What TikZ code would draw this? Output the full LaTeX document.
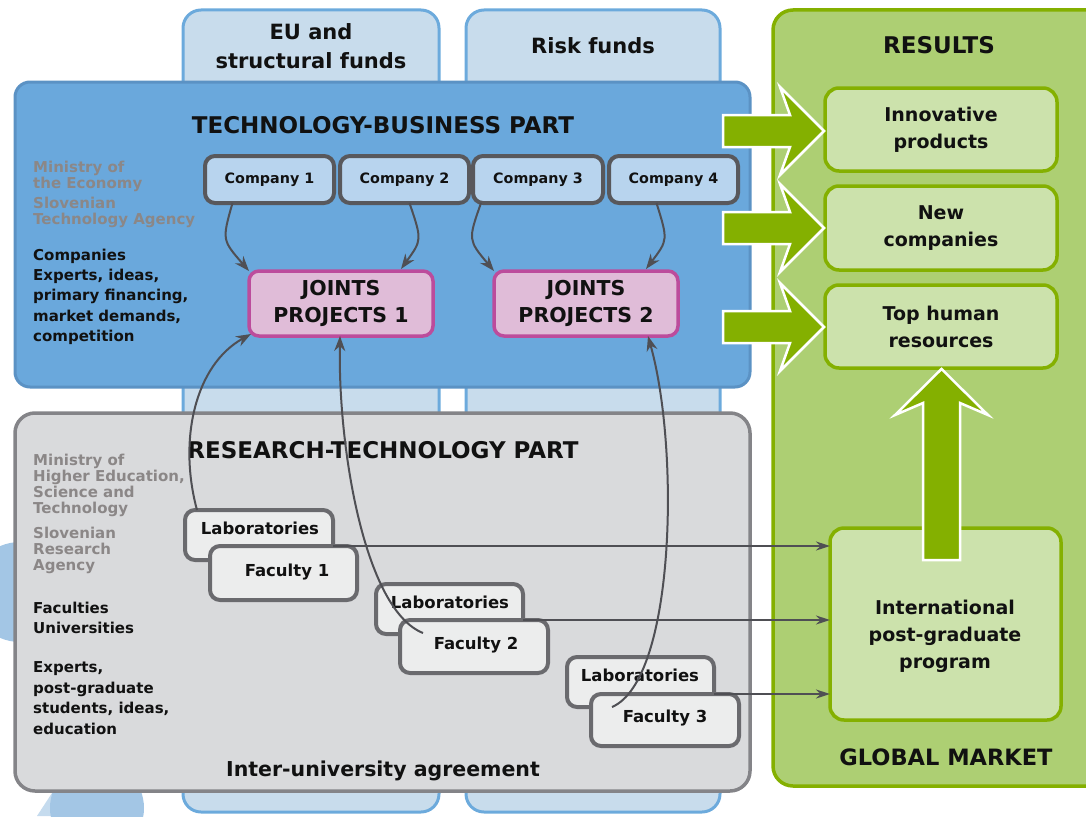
\documentclass[tikz,border=0pt]{standalone}
\usepackage{fontspec}
\setmainfont{DejaVu Sans}
\usetikzlibrary{arrows.meta,calc}
\definecolor{tabfill}{HTML}{C8DCEC}
\definecolor{tabdraw}{HTML}{6CAADC}
\definecolor{bluefill}{HTML}{6AA8DC}
\definecolor{bluedraw}{HTML}{5B92C4}
\definecolor{grayfill}{HTML}{D9DADC}
\definecolor{graydraw}{HTML}{848488}
\definecolor{greenfill}{HTML}{ADCF73}
\definecolor{greendraw}{HTML}{84B000}
\definecolor{resfill}{HTML}{CCE2AC}
\definecolor{compfill}{HTML}{B8D4EE}
\definecolor{compdraw}{HTML}{58585C}
\definecolor{jointfill}{HTML}{E0BCD8}
\definecolor{jointdraw}{HTML}{BC4C9C}
\definecolor{labfill}{HTML}{ECEDED}
\definecolor{labdraw}{HTML}{6A6A6E}
\definecolor{mingray}{HTML}{8B8787}
\definecolor{conncol}{HTML}{4F4F54}
\definecolor{circA}{HTML}{A3C6E5}
\definecolor{circB}{HTML}{C5DBEE}
\definecolor{ink}{HTML}{111111}
\begin{document}
\begin{tikzpicture}[x=1pt,y=-1pt,
  box/.style={inner sep=0pt, outer sep=0pt, anchor=north west},
  tabbox/.style={draw=tabdraw, fill=tabfill, line width=3pt, rounded corners=18pt},
  resbox/.style={box, draw=greendraw, fill=resfill, line width=3.5pt, rounded corners=14pt,
    minimum width=232pt, text=ink, align=center, font=\fontsize{19}{27}\selectfont\bfseries},
  compbox/.style={box, draw=compdraw, fill=compfill, line width=4pt, rounded corners=10pt,
    minimum height=47pt, text=ink, font=\fontsize{14.3}{16}\selectfont\bfseries},
  jointbox/.style={box, draw=jointdraw, fill=jointfill, line width=3.5pt, rounded corners=10pt,
    minimum width=184pt, minimum height=65pt, text=ink, align=center,
    font=\fontsize{20.5}{27}\selectfont\bfseries},
  labbox/.style={box, draw=labdraw, fill=labfill, line width=4pt, rounded corners=10pt},
  labtxt/.style={inner sep=0pt, text=ink, font=\fontsize{16.5}{20}\selectfont\bfseries},
  tabtxt/.style={inner sep=0pt, text=ink, font=\fontsize{21}{28}\selectfont\bfseries},
  titletxt/.style={inner sep=0pt, text=ink, font=\fontsize{23}{26}\selectfont\bfseries},
  mintxt/.style={inner sep=0pt, anchor=north west, align=left, text=mingray,
    font=\fontsize{15}{16}\selectfont\bfseries},
  sidetxt/.style={inner sep=0pt, anchor=north west, align=left, text=ink,
    font=\fontsize{15}{20.3}\selectfont\bfseries},
  bigarrow/.style={fill=greendraw, draw=white, line width=2.5pt, line join=miter},
  conn/.style={draw=conncol, line width=2pt, -{Stealth[length=15pt,width=11pt]}},
  flow/.style={draw=conncol, line width=2pt, -{Stealth[length=14pt,width=9pt]}}
]
\useasboundingbox (0,0) rectangle (1086,816);
\clip (0,0) rectangle (1086,816);

% decorative background circles
\fill[circA] (20,592) circle (50);
\fill[circB] (37,816) -- (52,793) -- (70,793) -- (70,816) -- cycle;
\fill[circA] (97,808) circle (47);

% funding tabs
\node[box, tabbox, minimum width=256pt, minimum height=802pt] (eu) at (183,10) {};
\node[box, tabbox, minimum width=254pt, minimum height=802pt] (risk) at (466,10) {};
\node[tabtxt, anchor=base] (eut1) at (311,40) {EU and};
\node[tabtxt, anchor=base] (eut2) at (311,68) {structural funds};
\node[tabtxt, anchor=base] (riskt) at (593,54) {Risk funds};

% main parts
\node[box, draw=bluedraw, fill=bluefill, line width=3pt, rounded corners=15pt,
  minimum width=735pt, minimum height=305pt] (tb) at (15,82) {};
\node[box, draw=graydraw, fill=grayfill, line width=3.5pt, rounded corners=20pt,
  minimum width=735pt, minimum height=378pt] (rt) at (15,413) {};
\node[box, draw=greendraw, fill=greenfill, line width=3.5pt, rounded corners=20pt,
  minimum width=340pt, minimum height=776pt] (gm) at (773,10) {};

\node[titletxt, anchor=base] (tbt) at (383,133) {TECHNOLOGY-BUSINESS PART};
\node[titletxt, anchor=base] (rtt) at (383,458) {RESEARCH-TECHNOLOGY PART};
\node[titletxt, anchor=base, font=\fontsize{20.5}{24}\selectfont\bfseries] (iua) at (383,776) {Inter-university agreement};
\node[titletxt, anchor=base, font=\fontsize{23}{24}\selectfont\bfseries] (res) at (939,54) {RESULTS};
\node[titletxt, anchor=base, font=\fontsize{22.5}{24}\selectfont\bfseries] (glob) at (946,765) {GLOBAL MARKET};

% side texts
\node[mintxt] (m1) at (33,160.5) {Ministry of\\the Economy};
\node[mintxt] (m2) at (33,196.5) {Slovenian\\Technology Agency};
\node[sidetxt] (s1) at (33,248.6) {Companies\\Experts, ideas,\\primary financing,\\market demands,\\competition};
\node[mintxt] (m3) at (33,453.6) {Ministry of\\Higher Education,\\Science and\\Technology};
\node[mintxt] (m4) at (33,526.6) {Slovenian\\Research\\Agency};
\node[sidetxt] (s2) at (33,601.6) {Faculties\\Universities};
\node[sidetxt, font=\fontsize{15}{20.6}\selectfont\bfseries] (s3) at (33,661.6) {Experts,\\post-graduate\\students, ideas,\\education};

% results
\node[resbox, minimum height=83pt] (r1) at (825,88) {Innovative\\products};
\node[resbox, minimum height=84pt] (r2) at (825,186) {New\\companies};
\node[resbox, minimum height=83pt] (r3) at (825,285) {Top human\\resources};
\node[resbox, minimum width=231pt, minimum height=192pt] (ipp) at (830,528) {};
\node[inner sep=0pt, text=ink, align=center, font=\fontsize{19}{27}\selectfont\bfseries] (ippt) at (945,636) {International\\post-graduate\\program};

% big arrows
\foreach \c in {131,228,327}
  \draw[bigarrow] (723,\c-16) -- (790,\c-16) -- (780,\c-44) -- (824,\c) -- (780,\c+44) -- (790,\c+16) -- (723,\c+16) -- cycle;
\draw[bigarrow] (923,560) -- (923,403) -- (895,415) -- (941.5,369) -- (988,415) -- (960,403) -- (960,560) -- cycle;

% companies and joint projects
\node[compbox, minimum width=129pt] (c1) at (205,156) {Company 1};
\node[compbox, minimum width=129pt] (c2) at (340,156) {Company 2};
\node[compbox, minimum width=130pt] (c3) at (473,156) {Company 3};
\node[compbox, minimum width=129pt] (c4) at (609,156) {Company 4};
\node[jointbox] (j1) at (249,271) {JOINTS\\PROJECTS 1};
\node[jointbox] (j2) at (494,271) {JOINTS\\PROJECTS 2};

% laboratories and faculties
\node[labbox, minimum width=148pt, minimum height=50pt] (lab1) at (185,510) {};
\node[labtxt, anchor=base] (lab1t) at (260,534) {Laboratories};
\node[labbox, minimum width=147pt, minimum height=54pt] (fac1) at (210,546) {};
\node[labtxt] (fac1t) at (287,572) {Faculty 1};
\node[labbox, minimum width=147pt, minimum height=50pt] (lab2) at (376,584) {};
\node[labtxt, anchor=base] (lab2t) at (450,608) {Laboratories};
\node[labbox, minimum width=148pt, minimum height=53pt] (fac2) at (400,620) {};
\node[labtxt] (fac2t) at (476,645) {Faculty 2};
\node[labbox, minimum width=147pt, minimum height=50pt] (lab3) at (567,657) {};
\node[labtxt, anchor=base] (lab3t) at (640,681) {Laboratories};
\node[labbox, minimum width=148pt, minimum height=52pt] (fac3) at (591,694) {};
\node[labtxt] (fac3t) at (665,718) {Faculty 3};

% flows to the post-graduate program
\draw[flow] (lab1.east |- fac1.north) -- (ipp.west |- fac1.north);
\draw[flow] (lab2.east |- fac2.north) -- (ipp.west |- fac2.north);
\draw[flow] (lab3.east |- fac3.north) -- (ipp.west |- fac3.north);

% companies to joint projects
\draw[conn] ($(c1.south)+(-37,0)$) .. controls (222,240) .. (j1.north west);
\draw[conn] ($(c2.south)+(5,0)$) .. controls (422,240) .. ($(j1.north east)+(-32,-2)$);
\draw[conn] ($(c3.south)+(-57,0)$) .. controls (468,240) .. (j2.north west);
\draw[conn] ($(c4.south)+(-17,0)$) .. controls (668,240) .. ($(j2.north east)+(-32,-2)$);

% research to joint projects
\draw[conn] ($(lab1.north west)+(12,0)$) .. controls (178,440) and (195,365) .. ($(j1.south west)+(2,-2)$);
\draw[conn] ($(fac2.north west)+(23,13)$) .. controls (365,610) and (338,450) .. ($(j1.south west)+(91,0)$);
\draw[conn] ($(fac3.north west)+(21,13)$) .. controls (675,680) and (680,450) .. ($(j2.south east)+(-30,0)$);
\end{tikzpicture}
\end{document}
